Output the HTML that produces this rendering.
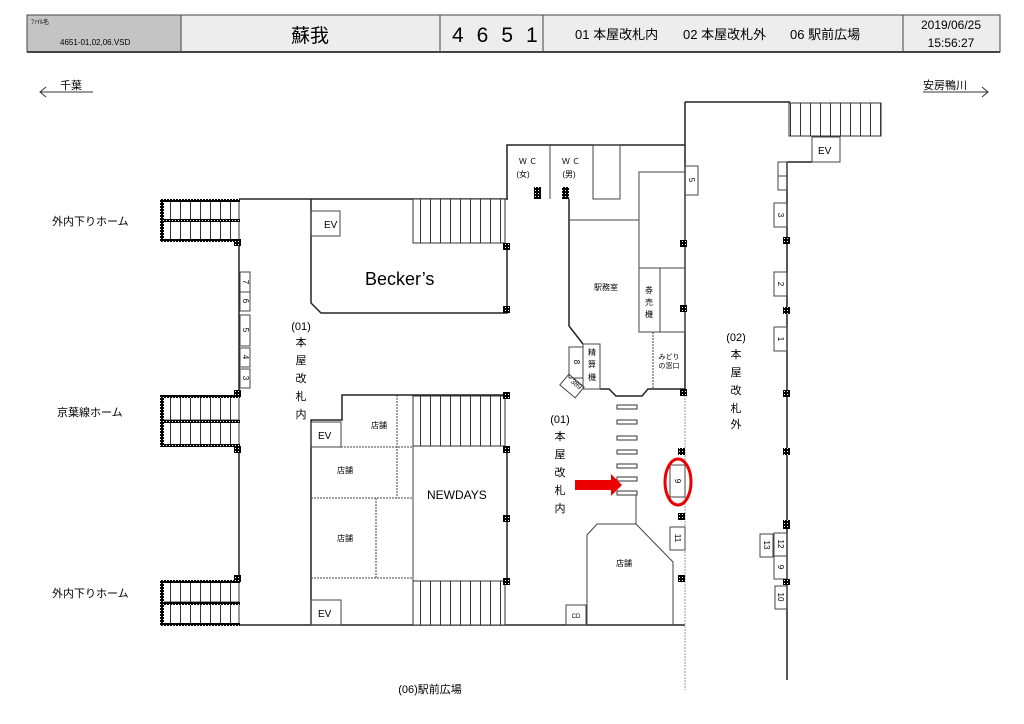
<!DOCTYPE html>
<html><head><meta charset="utf-8"><style>
body{margin:0;background:#fff;}
svg{display:block;font-family:"Liberation Sans","Noto Sans CJK JP",sans-serif;}
</style></head><body>
<svg width="1024" height="724" viewBox="0 0 1024 724" xmlns="http://www.w3.org/2000/svg">
<defs>
<pattern id="st" width="10" height="10" patternUnits="userSpaceOnUse"><rect width="10" height="10" fill="#fff"/><line x1="0.5" y1="0" x2="0.5" y2="10" stroke="#333" stroke-width="1"/></pattern>
<pattern id="dot" width="3" height="3" patternUnits="userSpaceOnUse"><rect width="3" height="3" fill="#000"/><rect x="1" y="1" width="1" height="1" fill="#fff"/></pattern>
</defs>
<!-- header -->
<g stroke="#444" stroke-width="1">
<rect x="27" y="15" width="154" height="37" fill="#c4c4c4"/>
<rect x="181" y="15" width="259" height="37" fill="#ededed"/>
<rect x="440" y="15" width="103" height="37" fill="#ededed"/>
<rect x="543" y="15" width="360" height="37" fill="#ededed"/>
<rect x="903" y="15" width="97" height="37" fill="#ededed"/>
</g>
<line x1="27" y1="52" x2="1000" y2="52" stroke="#444" stroke-width="2"/>
<text x="31" y="24" font-size="6">ﾌｧｲﾙ名</text>
<text x="60" y="45" font-size="8">4651-01,02,06.VSD</text>
<text x="310" y="42" font-size="19" text-anchor="middle">蘇我</text>
<text x="452" y="42" font-size="21" letter-spacing="13">4651</text>
<text x="575" y="39" font-size="13">01 本屋改札内</text>
<text x="683" y="39" font-size="13">02 本屋改札外</text>
<text x="790" y="39" font-size="13">06 駅前広場</text>
<text x="951" y="29" font-size="12" text-anchor="middle">2019/06/25</text>
<text x="951" y="47" font-size="12" text-anchor="middle">15:56:27</text>
<!-- direction -->
<text x="60" y="89" font-size="11">千葉</text>
<line x1="40" y1="92" x2="93" y2="92" stroke="#333"/><polyline points="46,87 40,92 46,97" fill="none" stroke="#333"/>
<text x="923" y="89" font-size="11">安房鴨川</text>
<line x1="923" y1="92" x2="988" y2="92" stroke="#333"/><polyline points="982,87 988,92 982,97" fill="none" stroke="#333"/>

<g fill="none" stroke="#222" stroke-width="1.5">
<line x1="239" y1="199" x2="508" y2="199"/>
<line x1="239" y1="241" x2="239" y2="395"/>
<line x1="239" y1="446" x2="239" y2="580"/>
<line x1="160" y1="625" x2="685" y2="625"/>
<polyline points="311,199 311,303 321,313 507,313 507,243"/>
<polyline points="507,199 507,145 685,145"/>
<line x1="685" y1="102" x2="685" y2="395"/>
<line x1="685" y1="102" x2="790" y2="102"/>
<line x1="787" y1="162" x2="787" y2="680"/>
<polyline points="787,162 812,162"/>
<polyline points="569,199 569,326 583,344"/>
<polyline points="600,389 609,389 616,396 642,396 648,389 685,389"/>
<polyline points="311,625 311,420 342,420 342,395 507,395"/>
<line x1="507" y1="446" x2="507" y2="580"/>
</g>
<g fill="none" stroke="#444" stroke-width="1">
<line x1="685" y1="395" x2="685" y2="690" stroke="#999" stroke-dasharray="2,1"/>
<line x1="550" y1="145" x2="550" y2="199"/>
<line x1="593" y1="145" x2="593" y2="199"/>
<rect x="593" y="145" width="27" height="54"/>
<line x1="569" y1="220" x2="639" y2="220"/>
<rect x="639" y="172" width="46" height="96"/>
<rect x="639" y="268" width="21" height="64"/>
<rect x="660" y="268" width="25" height="64"/>
<line x1="653" y1="332" x2="653" y2="389" stroke-dasharray="2,1"/>
<rect x="685" y="166" width="13" height="29"/>
<rect x="583" y="344" width="17" height="45"/>
<rect x="569" y="347" width="14" height="31"/>
<rect x="562" y="379" width="20" height="14" transform="rotate(40 572 386)"/>
<rect x="311" y="211" width="29" height="25"/>
<rect x="311" y="422" width="30" height="25"/>
<rect x="311" y="600" width="30" height="25"/>
<rect x="812" y="137" width="28" height="25"/>
<g stroke-dasharray="2,1"><line x1="311" y1="447" x2="413" y2="447"/><line x1="311" y1="498" x2="413" y2="498"/><line x1="311" y1="578" x2="413" y2="578"/><line x1="397" y1="395" x2="397" y2="498"/><line x1="376" y1="498" x2="376" y2="578"/></g>
<line x1="413" y1="446" x2="413" y2="625"/>
<rect x="240" y="272" width="10" height="20"/><rect x="240" y="292" width="10" height="19"/><rect x="240" y="315" width="10" height="31"/><rect x="240" y="348" width="10" height="19"/><rect x="240" y="369" width="10" height="19"/>
<rect x="778" y="162" width="9" height="14"/><rect x="778" y="176" width="9" height="14"/>
<rect x="774" y="203" width="13" height="24"/><rect x="774" y="272" width="13" height="24"/><rect x="774" y="327" width="13" height="24"/>
<rect x="670" y="465" width="15" height="32"/><rect x="670" y="527" width="15" height="23"/>
<rect x="760" y="534" width="13" height="23"/><rect x="774" y="533" width="13" height="23"/><rect x="774" y="556" width="13" height="23"/><rect x="775" y="586" width="12" height="23"/>
<rect x="566" y="605" width="20" height="20"/>
<g stroke="#333"><rect x="617" y="405" width="20" height="4"/><rect x="617" y="420" width="20" height="4"/><rect x="617" y="436" width="20" height="4"/><rect x="617" y="450" width="20" height="4"/><rect x="617" y="464" width="20" height="4"/><rect x="617" y="477" width="20" height="4"/><rect x="617" y="491" width="20" height="4"/></g>
<line x1="636" y1="495" x2="636" y2="524"/>
<polyline points="587,625 587,535 597,524 636,524 673,562 673,625"/>
</g>
<g stroke="#333" stroke-width="1">
<rect x="163" y="201" width="76" height="19" fill="url(#st)"/><rect x="163" y="221" width="76" height="19" fill="url(#st)"/>
<rect x="163" y="397" width="76" height="23" fill="url(#st)"/><rect x="163" y="422" width="76" height="23" fill="url(#st)"/>
<rect x="163" y="582" width="76" height="20" fill="url(#st)"/><rect x="163" y="603" width="76" height="21" fill="url(#st)"/>
<rect x="413" y="199" width="92" height="44" fill="url(#st)"/>
<rect x="413" y="396" width="92" height="50" fill="url(#st)"/>
<rect x="413" y="581" width="92" height="44" fill="url(#st)"/>
<rect x="789" y="103" width="92" height="33" fill="url(#st)"/>
</g>
<g fill="url(#dot)">
<rect x="160" y="199" width="4" height="43"/><rect x="160" y="199" width="80" height="3"/><rect x="160" y="219" width="80" height="3"/><rect x="160" y="239" width="80" height="3"/>
<rect x="160" y="395" width="4" height="52"/><rect x="160" y="395" width="80" height="3"/><rect x="160" y="420" width="80" height="3"/><rect x="160" y="444" width="80" height="3"/>
<rect x="160" y="580" width="4" height="46"/><rect x="160" y="580" width="80" height="3"/><rect x="160" y="602" width="80" height="3"/><rect x="160" y="623" width="80" height="3"/>
<rect x="234" y="239" width="7" height="7"/><rect x="234" y="390" width="7" height="7"/><rect x="234" y="446" width="7" height="7"/><rect x="234" y="575" width="7" height="7"/>
<rect x="503" y="243" width="7" height="7"/><rect x="503" y="306" width="7" height="7"/><rect x="503" y="392" width="7" height="7"/><rect x="503" y="446" width="7" height="7"/><rect x="503" y="515" width="7" height="7"/><rect x="503" y="578" width="7" height="7"/>
<rect x="680" y="240" width="7" height="7"/><rect x="680" y="305" width="7" height="7"/><rect x="680" y="389" width="7" height="7"/><rect x="678" y="448" width="7" height="7"/><rect x="678" y="513" width="7" height="7"/><rect x="678" y="575" width="7" height="7"/>
<rect x="783" y="237" width="7" height="7"/><rect x="783" y="307" width="7" height="7"/><rect x="783" y="390" width="7" height="7"/><rect x="783" y="448" width="7" height="7"/><rect x="783" y="520" width="7" height="9"/><rect x="783" y="579" width="7" height="6"/>
<rect x="534" y="187" width="7" height="12"/><rect x="562" y="187" width="7" height="12"/>
</g>
<polygon points="575,480 611,480 611,474 622,485 611,496 611,490 575,490" fill="#e00"/>
<ellipse cx="678" cy="482" rx="13" ry="23" fill="none" stroke="#e00" stroke-width="3"/>
<g font-size="11" fill="#000">
<text x="52" y="225">外内下りホーム</text>
<text x="57" y="416">京葉線ホーム</text>
<text x="52" y="597">外内下りホーム</text>
<text x="324" y="228" font-size="10">EV</text><text x="318" y="439" font-size="10">EV</text><text x="318" y="617" font-size="10">EV</text><text x="818" y="154" font-size="10">EV</text>
<text x="365" y="285" font-size="18">Becker’s</text>
<text x="427" y="499" font-size="12">NEWDAYS</text>
<g text-anchor="middle">
<text x="301" y="330">(01)</text><text x="301" y="346">本</text><text x="301" y="364">屋</text><text x="301" y="382">改</text><text x="301" y="400">札</text><text x="301" y="418">内</text>
<text x="560" y="423">(01)</text><text x="560" y="440">本</text><text x="560" y="458">屋</text><text x="560" y="476">改</text><text x="560" y="494">札</text><text x="560" y="512">内</text>
<text x="736" y="341">(02)</text><text x="736" y="358">本</text><text x="736" y="376">屋</text><text x="736" y="394">改</text><text x="736" y="412">札</text><text x="736" y="428">外</text>
</g>
<g font-size="8" text-anchor="middle">
<text x="528" y="164">Ｗ Ｃ</text><text x="523" y="177">(女)</text>
<text x="571" y="164">Ｗ Ｃ</text><text x="569" y="177">(男)</text>
<text x="606" y="290">駅務室</text>
<text x="649" y="293">券</text><text x="649" y="305">売</text><text x="649" y="317">機</text>
<text x="592" y="355">精</text><text x="592" y="367">算</text><text x="592" y="380">機</text>
<text x="669" y="359" font-size="7">みどり</text><text x="669" y="368" font-size="7">の窓口</text>
<text x="379" y="428">店舗</text><text x="345" y="473">店舗</text><text x="345" y="541">店舗</text><text x="624" y="566">店舗</text>
<text x="576" y="618" font-size="6">CD</text>
<text x="430" y="693" font-size="11">(06)駅前広場</text>
</g>
<g font-size="8" text-anchor="middle">
<text transform="translate(243,282) rotate(90)">7</text><text transform="translate(243,301) rotate(90)">6</text><text transform="translate(243,330) rotate(90)">5</text><text transform="translate(243,357) rotate(90)">4</text><text transform="translate(243,378) rotate(90)">3</text>
<text transform="translate(689,180) rotate(90)">5</text>
<text transform="translate(778,215) rotate(90)">3</text><text transform="translate(778,284) rotate(90)">2</text><text transform="translate(778,339) rotate(90)">1</text>
<text transform="translate(574,362) rotate(90)">8</text>
<text transform="translate(575,386) rotate(40)" font-size="7">389</text>
<text transform="translate(675,481) rotate(90)">9</text>
<text transform="translate(675,538) rotate(90)">11</text>
<text transform="translate(764,545) rotate(90)">13</text><text transform="translate(778,544) rotate(90)">12</text><text transform="translate(778,567) rotate(90)">9</text><text transform="translate(778,597) rotate(90)">10</text>
</g>
</g>
</svg>
</body></html>
